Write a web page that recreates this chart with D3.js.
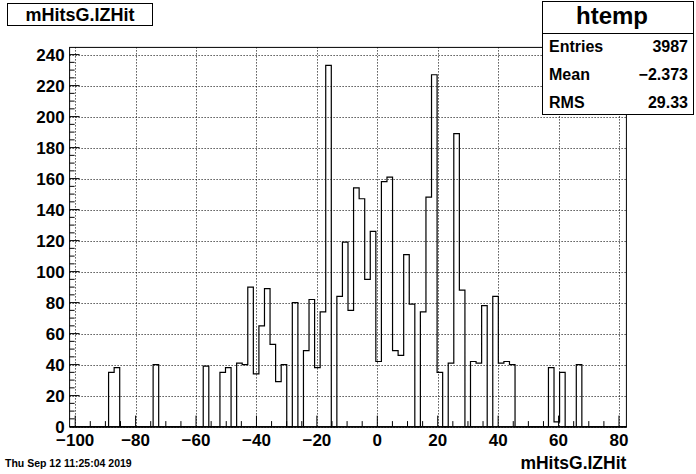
<!DOCTYPE html>
<html><head><meta charset="utf-8">
<script src="https://cdn.jsdelivr.net/npm/d3@7"></script>
<style>
html,body{margin:0;padding:0;background:#fff;}
svg{display:block;}
text{font-family:"Liberation Sans",Arial,Helvetica,sans-serif;font-weight:bold;fill:#000;}
</style></head>
<body>
<script>
// ---- data ----
const histTitle = "mHitsG.IZHit";
const xAxisTitle = "mHitsG.IZHit";
const dateText = "Thu Sep 12 11:25:04 2019";
const statsName = "htemp";
const statsLabels = ["Entries", "Mean", "RMS"];
const statsValues = ["3987", "\u22122.373", "29.33"];
const xMin = -101.85, xMax = 82.45, nBins = 100;
const binCounts = [
  0,0,0,0,0,0,0,35,38,0,
  0,0,0,0,0,40,0,0,0,0,
  0,0,0,0,39,0,0,35,38,0,
  41,40,90,34,65,89,53,29,40,0,
  80,0,49,82,38,74,233,0,84,119,
  75,154,147,95,126,42,158,161,49,46,
  111,79,0,74,148,227,35,0,41,189,
  88,0,42,41,78,0,84,41,42,40,
  0,0,0,0,0,0,38,3,35,0,
  0,40,0,0,0,0,0,0,0,0
];
const xTicks = [-100,-80,-60,-40,-20,0,20,40,60,80];
const yTicks = [0,20,40,60,80,100,120,140,160,180,200,220,240];
const yMax = 233 * 1.05;

// ---- layout ----
const W = 696, H = 474;
const fL = 69.6, fR = 626.4, fT = 47.4, fB = 426.6;
const svg = d3.select("body").append("svg").attr("width", W).attr("height", H);

const x = d3.scaleLinear().domain([xMin, xMax]).range([fL, fR]);
const y = d3.scaleLinear().domain([0, yMax]).range([fB, fT]);
const fmt = v => (v < 0 ? "\u2212" + Math.abs(v) : String(v));

// grid
const grid = svg.append("g").attr("stroke", "#000").attr("stroke-width", 1).attr("stroke-dasharray", "1,2");
xTicks.forEach(t => grid.append("line").attr("x1", Math.round(x(t)) + 0.5).attr("x2", Math.round(x(t)) + 0.5).attr("y1", fT).attr("y2", fB));
yTicks.forEach(t => grid.append("line").attr("x1", fL).attr("x2", fR).attr("y1", Math.round(y(t)) + 0.5).attr("y2", Math.round(y(t)) + 0.5));

// histogram outline
const bw = (xMax - xMin) / nBins;
const pts = [[xMin, 0]];
binCounts.forEach((c, i) => { pts.push([xMin + i * bw, c]); pts.push([xMin + (i + 1) * bw, c]); });
pts.push([xMax, 0]);
svg.append("path").attr("d", d3.line().x(d => x(d[0])).y(d => y(d[1]))(pts))
  .attr("fill", "none").attr("stroke", "#000").attr("stroke-width", 1.2);

// frame
svg.append("rect").attr("x", fL).attr("y", fT).attr("width", fR - fL).attr("height", fB - fT)
  .attr("fill", "none").attr("stroke", "#000").attr("stroke-width", 1);

// x axis ticks
const xAxis = d3.axisBottom(x).tickValues(xTicks).tickSize(0).tickFormat("");
svg.append("g").attr("transform", `translate(0,${fB})`).call(xAxis).select(".domain").attr("stroke", "#000").attr("stroke-width", 1.5);
const tk = svg.append("g").attr("stroke", "#000").attr("stroke-width", 1);
for (let v = -100; v <= 80; v += 5) {
  const len = (v % 20 === 0) ? 11 : 5.5;
  tk.append("line").attr("x1", x(v)).attr("x2", x(v)).attr("y1", fB).attr("y2", fB - len);
}
for (let v = 0; v <= 240; v += 5) {
  const len = (v % 20 === 0) ? 10 : 5;
  tk.append("line").attr("x1", fL).attr("x2", fL + len).attr("y1", y(v)).attr("y2", y(v));
}
// labels
xTicks.forEach(t => svg.append("text").attr("x", x(t)).attr("y", 446).attr("text-anchor", "middle")
  .attr("font-size", 17).text(fmt(t)));
yTicks.forEach(t => svg.append("text").attr("x", fL - 5).attr("y", y(t)).attr("dy", "0.36em").attr("text-anchor", "end")
  .attr("font-size", 17).text(fmt(t)));

// axis title
svg.append("text").attr("x", fR).attr("y", 469).attr("text-anchor", "end").attr("font-size", 17.5).text(xAxisTitle);
// date
svg.append("text").attr("x", 5).attr("y", 467).attr("font-size", 10.5).text(dateText);

// title box
svg.append("rect").attr("x", 7.5).attr("y", 3.5).attr("width", 145).attr("height", 22).attr("fill", "#fff").attr("stroke", "#000");
svg.append("text").attr("x", 80).attr("y", 21).attr("text-anchor", "middle").attr("font-size", 18).text(histTitle);

// stats box
svg.append("rect").attr("x", 542.5).attr("y", 1.5).attr("width", 151).attr("height", 113).attr("fill", "#fff").attr("stroke", "#000");
svg.append("line").attr("x1", 542.5).attr("x2", 693.5).attr("y1", 33.5).attr("y2", 33.5).attr("stroke", "#000");
svg.append("text").attr("x", 612).attr("y", 24).attr("text-anchor", "middle").attr("font-size", 24).text(statsName);
statsLabels.forEach((l, i) => {
  const yy = 52 + i * 28;
  svg.append("text").attr("x", 549).attr("y", yy).attr("font-size", 16).text(l);
  svg.append("text").attr("x", 688).attr("y", yy).attr("text-anchor", "end").attr("font-size", 16).text(statsValues[i]);
});
</script>
</body></html>
